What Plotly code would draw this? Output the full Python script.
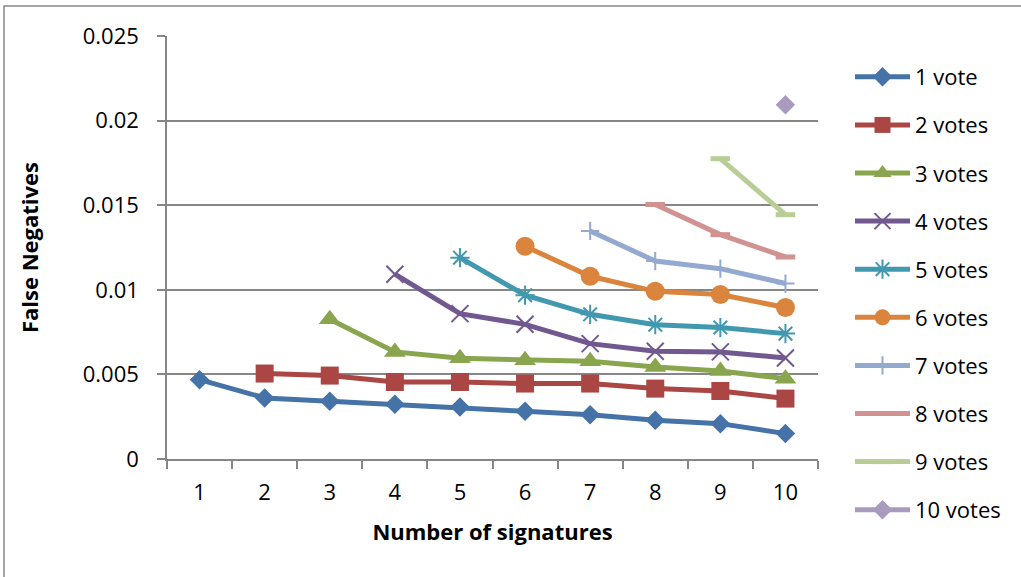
import plotly.graph_objects as go

# Number of signatures (x categories)
signatures = ["1", "2", "3", "4", "5", "6", "7", "8", "9", "10"]

# False negative rate per number of required votes
votes_1 = [0.00469, 0.00361, 0.00341, 0.00323, 0.00307, 0.00282, 0.00262, 0.00229, 0.00209, 0.00150]
votes_2 = [None, 0.00505, 0.00493, 0.00455, 0.00455, 0.00446, 0.00446, 0.00416, 0.00402, 0.00357]
votes_3 = [None, None, 0.00826, 0.00633, 0.00595, 0.00583, 0.00578, 0.00544, 0.00520, 0.00475]
votes_4 = [None, None, None, 0.01092, 0.00859, 0.00796, 0.00682, 0.00637, 0.00633, 0.00597]
votes_5 = [None, None, None, None, 0.01190, 0.00968, 0.00855, 0.00794, 0.00777, 0.00741]
votes_6 = [None, None, None, None, None, 0.01257, 0.01080, 0.00991, 0.00972, 0.00895]
votes_7 = [None, None, None, None, None, None, 0.01348, 0.01170, 0.01125, 0.01037]
votes_8 = [None, None, None, None, None, None, None, 0.01504, 0.01326, 0.01194]
votes_9 = [None, None, None, None, None, None, None, None, 0.01775, 0.01444]
votes_10 = [None, None, None, None, None, None, None, None, None, 0.02094]

series_names = ["1 vote", "2 votes", "3 votes", "4 votes", "5 votes",
                "6 votes", "7 votes", "8 votes", "9 votes", "10 votes"]
series_values = [votes_1, votes_2, votes_3, votes_4, votes_5,
                 votes_6, votes_7, votes_8, votes_9, votes_10]

y_tick_values = [0, 0.005, 0.01, 0.015, 0.02, 0.025]
y_tick_labels = ["0", "0.005", "0.01", "0.015", "0.02", "0.025"]

colors = ["#4572A7", "#AA4643", "#89A54E", "#71588F", "#4198AF",
          "#DB843D", "#93A9CF", "#D19392", "#B9CD96", "#A99BBD"]
symbols = ["diamond", "square", "triangle-up", "x-thin-open", "asterisk-open",
           "circle", "cross-thin-open", "line-ew-open", "line-ew-open", "diamond"]
sizes = [15, 18, 19, 17, 16, 19, 13, 14, 14, 15]
marker_line_widths = [0, 0, 0, 2, 2, 0, 2, 5, 5, 0]

FONT = "Open Sans"
FS = 22

fig = go.Figure()
for i, (name, vals) in enumerate(zip(series_names, series_values)):
    fig.add_trace(go.Scatter(
        x=signatures,
        y=vals,
        name=name,
        mode="lines+markers",
        connectgaps=False,
        legendgroup=name,
        line=dict(color=colors[i], width=5),
        marker=dict(symbol=symbols[i], size=sizes[i], color=colors[i],
                    line=dict(color=colors[i], width=marker_line_widths[i])),
    ))

# plot area: x 167..818 px, y 36..459 px
W, H = 1021, 577
L, R, T, B = 167, 1021 - 818, 36, 577 - 459
pw, ph = W - L - R, H - T - B

def px_x(p):
    return (p - L) / pw

def px_y(p):
    return (H - B - p) / ph

fig.update_layout(
    width=W, height=H,
    margin=dict(l=L, r=R, t=T, b=B, autoexpand=False),
    paper_bgcolor="white", plot_bgcolor="white",
    font=dict(family=FONT, size=FS, color="black"),
    showlegend=True,
    legend=dict(
        x=px_x(850), y=px_y(56), xanchor="left", yanchor="top",
        font=dict(family=FONT, size=FS, color="black"),
        itemwidth=55, tracegroupgap=16.5, maxheight=560,
        bgcolor="rgba(0,0,0,0)",
    ),
    xaxis=dict(
        type="category", range=[-0.5, 9.5],
        tickson="boundaries", ticks="outside", ticklen=8, tickwidth=1.5,
        tickcolor="#868686", showline=True, linecolor="#868686", linewidth=1.5,
        showgrid=False, zeroline=False, ticklabelstandoff=13,
        tickfont=dict(family=FONT, size=FS),
        title=dict(text="<b>Number of signatures</b>", standoff=19,
                   font=dict(family=FONT, size=FS)),
    ),
    yaxis=dict(
        range=[0, 0.025], tickvals=y_tick_values, ticktext=y_tick_labels,
        ticks="outside", ticklen=8, tickwidth=1.5, tickcolor="#868686",
        showline=True, linecolor="#868686", linewidth=1.5,
        showgrid=True, gridcolor="#868686", gridwidth=1.5, zeroline=False,
        ticklabelstandoff=14,
        tickfont=dict(family=FONT, size=FS),
        title=dict(text="<b>False Negatives</b>", standoff=38,
                   font=dict(family=FONT, size=FS)),
    ),
    shapes=[dict(
        type="rect", xref="paper", yref="paper",
        x0=px_x(4), x1=px_x(1030), y0=px_y(590), y1=px_y(6),
        line=dict(color="#868686", width=1.5), layer="below",
    )],
)

fig.write_html("out.html")
